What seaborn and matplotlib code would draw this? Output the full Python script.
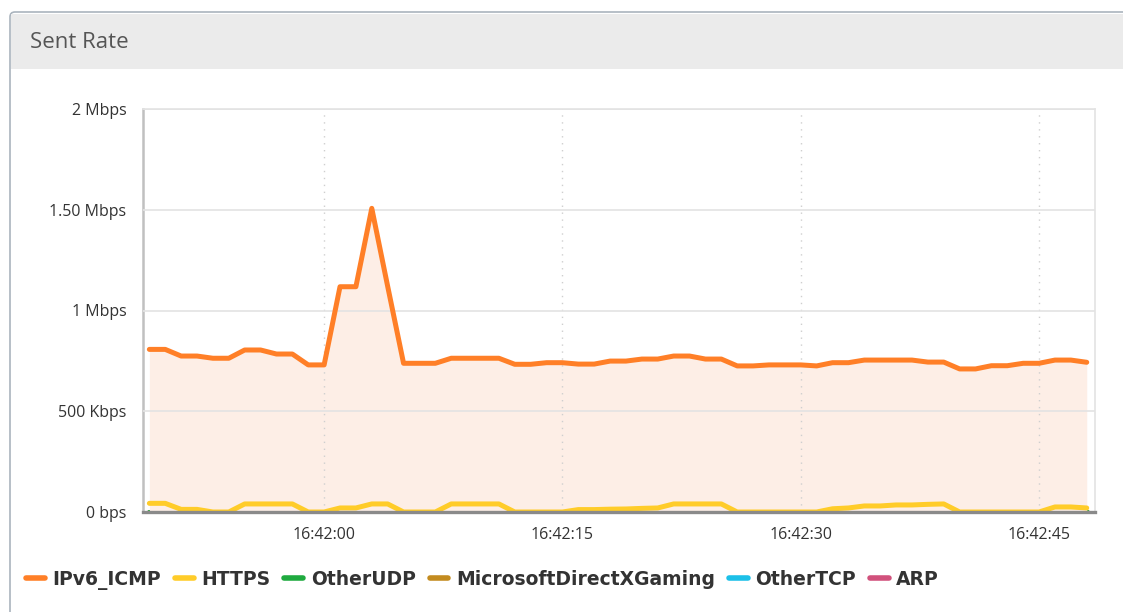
import matplotlib
matplotlib.use("Agg")
import matplotlib.pyplot as plt
import matplotlib.dates as mdates
from matplotlib.lines import Line2D
from matplotlib.patches import FancyBboxPatch, Rectangle
import seaborn as sns
import pandas as pd

# one sample per second, 16:41:49 .. 16:42:48
times = pd.date_range("2024-01-01 16:41:49", periods=60, freq="s")

# sent rate in Mbps
ipv6_icmp = [0.807, 0.807, 0.774, 0.774, 0.763, 0.763, 0.804, 0.804, 0.784, 0.784,
             0.730, 0.730, 1.118, 1.118, 1.507, 1.120, 0.738, 0.738, 0.738, 0.763,
             0.763, 0.763, 0.763, 0.733, 0.733, 0.741, 0.741, 0.734, 0.734, 0.749,
             0.749, 0.759, 0.759, 0.774, 0.774, 0.759, 0.759, 0.725, 0.725, 0.730,
             0.730, 0.730, 0.725, 0.741, 0.741, 0.754, 0.754, 0.754, 0.754, 0.744,
             0.744, 0.710, 0.710, 0.726, 0.726, 0.738, 0.738, 0.754, 0.754, 0.743]
https = [0.043, 0.043, 0.013, 0.013, 0.0, 0.0, 0.040, 0.040, 0.040, 0.040,
         0.0, 0.0, 0.020, 0.020, 0.040, 0.040, 0.0, 0.0, 0.0, 0.040,
         0.040, 0.040, 0.040, 0.0, 0.0, 0.0, 0.0, 0.012, 0.012, 0.014,
         0.015, 0.018, 0.020, 0.040, 0.040, 0.040, 0.040, 0.0, 0.0, 0.0,
         0.0, 0.0, 0.0, 0.016, 0.020, 0.030, 0.030, 0.035, 0.035, 0.038,
         0.040, 0.0, 0.0, 0.0, 0.0, 0.0, 0.0, 0.025, 0.025, 0.020]
other_udp = [0.0] * 60
directx = [0.0] * 60
other_tcp = [0.0] * 60
arp = [0.0] * 60

series_names = ["IPv6_ICMP", "HTTPS", "OtherUDP", "MicrosoftDirectXGaming", "OtherTCP", "ARP"]
series_values = [ipv6_icmp, https, other_udp, directx, other_tcp, arp]
colors = ["#ff7f27", "#ffcc29", "#1faa3f", "#c38b1f", "#1cc0e8", "#d1517c"]

y_ticks = [0, 0.5, 1, 1.5, 2]
y_labels = ["0 bps", "500 Kbps", "1 Mbps", "1.50 Mbps", "2 Mbps"]

df = pd.DataFrame({
    "time": list(times) * len(series_names),
    "series": [n for n in series_names for _ in times],
    "value": [v for vals in series_values for v in vals],
})

sns.set_style("white")
plt.rcParams["font.family"] = ["Open Sans", "DejaVu Sans"]

fig = plt.figure(figsize=(11.23, 6.12), dpi=100)

# panel frame + header band
fig.add_artist(FancyBboxPatch((0.10, -0.2), 11.4, 6.2, boxstyle="round,pad=0,rounding_size=0.05",
                              transform=fig.dpi_scale_trans, facecolor="white",
                              edgecolor="#aab4bd", linewidth=1.2, zorder=0))
fig.add_artist(Rectangle((0.11, 5.43), 11.2, 0.55, transform=fig.dpi_scale_trans,
                         facecolor="#ebebeb", edgecolor="none", zorder=0.5))
fig.text(30 / 1123, 1 - 43 / 612, "Sent Rate", fontsize=16, color="#555555", va="center")

ax = fig.add_axes([143 / 1123, 1 - 512 / 612, (1095 - 143) / 1123, (512 - 109) / 612])
ax.set_facecolor("none")

# zero-valued series sit on the baseline, hidden under the area fill
for name, col in zip(series_names[::-1], colors[::-1]):
    z = 2.8 if name == "IPv6_ICMP" else (2.7 if name == "HTTPS" else 1)
    sns.lineplot(data=df[df["series"] == name], x="time", y="value", color=col,
                 linewidth=3.6, ax=ax, zorder=z, solid_joinstyle="round",
                 solid_capstyle="round", legend=False)

ax.fill_between(times, ipv6_icmp, 0, color="#fdeee6", linewidth=0, zorder=1.5)

ax.set_ylim(0, 2)
ax.set_xlim(times[0] - pd.Timedelta(seconds=0.4), times[-1] + pd.Timedelta(seconds=0.52))
ax.set_yticks(y_ticks)
ax.set_yticklabels(y_labels)
ax.xaxis.set_major_locator(mdates.SecondLocator(bysecond=[0, 15, 30, 45]))
ax.xaxis.set_major_formatter(mdates.DateFormatter("%H:%M:%S"))
ax.set_xlabel("")
ax.set_ylabel("")

# grid drawn over the fill, under the lines
ax.set_axisbelow(False)
ax.yaxis.grid(True, color="#e3e3e3", linewidth=1.2)
ax.xaxis.grid(True, color="#cfcfcf", linewidth=1, linestyle=(0, (1, 4)))

ax.tick_params(axis="y", length=8, width=1, color="#c0c0c0", pad=4, labelsize=11.5, labelcolor="#333333")
ax.tick_params(axis="x", length=7, width=1, color="#c0c0c0", pad=4, labelsize=11.5, labelcolor="#333333")

ax.spines["left"].set_color("#c0c0c0")
ax.spines["left"].set_linewidth(1.8)
ax.spines["bottom"].set_color("#8a8a8a")
ax.spines["bottom"].set_linewidth(2.4)
ax.spines["bottom"].set_zorder(3)
for s in ["top", "right"]:
    ax.spines[s].set_visible(True)
    ax.spines[s].set_color("#e3e3e3")
    ax.spines[s].set_linewidth(1.2)

handles = [Line2D([0], [0], color=c, linewidth=4, solid_capstyle="round") for c in colors]
fig.legend(handles, series_names, loc="center left", bbox_to_anchor=(26 / 1123, 1 - 580 / 612),
           ncol=6, frameon=False, handlelength=1.0, handletextpad=0.4, columnspacing=0.75,
           borderaxespad=0, borderpad=0,
           prop={"family": ["Liberation Sans Narrow", "DejaVu Sans"], "weight": "bold", "size": 13.5},
           labelcolor="#333333")

fig.savefig("out.png", dpi=100)
